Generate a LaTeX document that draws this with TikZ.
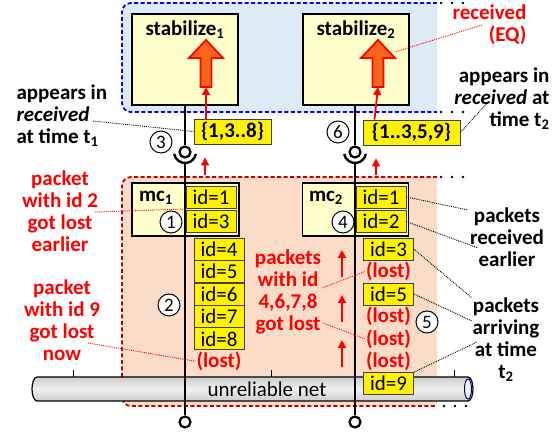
\documentclass[tikz,border=0pt]{standalone}
\usepackage{fontspec}
\setmainfont{Carlito}
\usepackage{xcolor}
\usepackage{tikz}
\usetikzlibrary{arrows.meta, positioning, calc}

\definecolor{stabfill}{HTML}{FFFFCC}
\definecolor{blueback}{HTML}{DDEBF7}
\definecolor{redback}{HTML}{FBDCC8}
\definecolor{darkred}{HTML}{C00000}
\definecolor{fatfill}{HTML}{F8661C}
\newcommand{\lblfont}{\fontsize{21}{22}\selectfont\bfseries}
\newcommand{\idfont}{\fontsize{21}{22}\selectfont}
\newcommand{\numfont}{\fontsize{19}{19}\selectfont}

\begin{document}
\begin{tikzpicture}[x=1pt, y=1pt,
    zone/.style={line width=1.8pt, dash pattern=on 4pt off 2.5pt, rounded corners=9pt},
    procbox/.style={draw, line width=1.2pt, fill=stabfill, inner sep=0pt},
    idbox/.style={draw=black!75, line width=0.8pt, fill=yellow, minimum width=50pt, minimum height=22pt, inner sep=0pt, font=\idfont},
    setbox/.style={draw=black!75, line width=0.8pt, fill=yellow, minimum height=25pt, inner sep=2pt, font=\lblfont},
    lost/.style={text=red, font=\lblfont, inner sep=1pt},
    redlbl/.style={text=red, font=\lblfont, align=center},
    blacklbl/.style={font=\lblfont},
    num/.style={circle, draw, line width=1pt, fill=white, minimum size=22pt, inner sep=0pt, font=\numfont},
    ball/.style={circle, draw, line width=2.2pt, fill=white, minimum size=11pt, inner sep=0pt},
    life/.style={line width=2.4pt},
    uparr/.style={-{Triangle[length=8pt, width=8pt]}, red, line width=1.8pt},
    note/.style={densely dotted, line width=0.9pt},
    rednote/.style={note, red},
]

\useasboundingbox (0,0) rectangle (560,434);

% Zones
\path[zone, fill=blueback, draw=blue] (437,431) -- (122,431) -- (122,322) -- (437,322);
\path[zone, fill=redback, draw=darkred] (437,257) -- (122,257) -- (122,28) -- (437,28);
\foreach \x in {441,452,463} {
    \fill (\x,431) circle[radius=1.4];
    \fill (\x,322) circle[radius=1.4];
    \fill (\x,257) circle[radius=1.4];
    \fill (\x+3,28) circle[radius=1.4];
}

% Unreliable net
\draw[line width=1.2pt, top color=gray!40, bottom color=gray!40, middle color=gray!12]
    (37,57) arc[start angle=90, end angle=270, x radius=5, y radius=12] -- (468,33)
    arc[start angle=-90, end angle=90, x radius=5, y radius=12] -- cycle;
\draw[line width=1pt, draw=blue!50!black, fill=blue!4] (468,45) ellipse[x radius=3.5, y radius=10];
\node[font=\idfont] (net) at (267,45) {unreliable net};
\foreach \x in {73,271,454} {
    \draw[line width=0.8pt] (\x,57) -- (\x,64);
}

% Processes
\node[procbox, minimum width=106pt, minimum height=91pt] (stab1) at (185,374.5) {};
\node[procbox, minimum width=106pt, minimum height=91pt] (stab2) at (356,374.5) {};
\node[blacklbl, below=4pt of stab1.north] (stab1lbl) {stabilize\textsubscript{1}};
\node[blacklbl, below=4pt of stab2.north] (stab2lbl) {stabilize\textsubscript{2}};
\node[procbox, minimum width=107pt, minimum height=53pt] (mc1) at (185.5,224.5) {};
\node[procbox, minimum width=106pt, minimum height=53pt] (mc2) at (355.5,224.5) {};
\node[blacklbl] (mc1lbl) at (156,236) {mc\textsubscript{1}};
\node[blacklbl] (mc2lbl) at (326,236) {mc\textsubscript{2}};

% Fat arrows into stabilize
\foreach \c/\n in {206/1, 378/2} {
    \draw[red, line width=1.8pt, fill=fatfill] (\c-5.5,347) -- (\c-5.5,376) -- (\c-17,376) -- (\c,394)
        -- (\c+17,376) -- (\c+5.5,376) -- (\c+5.5,347) -- cycle;
    \coordinate (fat\n) at (\c,347);
}

% Lifelines
\node[ball] (ball1) at (185,282) {};
\node[ball] (ball2) at (355,282) {};
\node[ball] (end1) at (185,12) {};
\node[ball] (end2) at (355,12) {};
\coordinate (sock1) at (185,271);
\coordinate (sock2) at (355,271);
\draw[life] (stab1.south -| ball1) -- (ball1);
\draw[life] (stab2.south -| ball2) -- (ball2);
\draw[life] (ball1.center) ++(190:11) arc[start angle=190, end angle=350, radius=11];
\draw[life] (ball2.center) ++(190:11) arc[start angle=190, end angle=350, radius=11];
\draw[life] (sock1) -- (end1);
\draw[life] (sock2) -- (end2);

% Packets at mc1
\node[idbox] (idl1) at (211,237) {id=1};
\node[idbox] (idl3) at (211,212.5) {id=3};
\foreach \i/\y in {4/184.8, 5/162.4, 6/140, 7/117.6, 8/95.2} {
    \node[idbox] (idl\i) at (219,\y) {id=\i};
}
\node[lost] (lostl8) at (219,72.8) {(lost)};

% Packets at mc2
\node[idbox] (idr1) at (381,237) {id=1};
\node[idbox] (idr2) at (381,212.5) {id=2};
\node[idbox] (idr3) at (388.5,184.8) {id=3};
\node[lost] (lostr4) at (388.5,162.4) {(lost)};
\node[idbox] (idr5) at (388.5,140) {id=5};
\node[lost] (lostr6) at (388.5,117.6) {(lost)};
\node[lost] (lostr7) at (388.5,95.2) {(lost)};
\node[lost] (lostr8) at (388.5,72.8) {(lost)};
\node[idbox] (idr9) at (388.5,50.4) {id=9};

% Received sets
\node[setbox, minimum width=77pt] (set1) at (232.5,302.5) {\{1,3..8\}};
\node[setbox, minimum width=97pt] (set2) at (411.5,301.5) {\{1..3,5,9\}};
\coordinate (in1) at (205,259);
\coordinate (in2) at (376,259);
\draw[uparr, shorten >=13pt] (in1) -- (in1 |- set1.south);
\draw[uparr, shorten >=13pt] (in2) -- (in2 |- set2.south);
\draw[uparr] (set1.north -| fat1) -- (fat1);
\draw[uparr] ($(set2.north)+(-37,0)$) -- (fat2);
\foreach \y in {157,112,67} {
    \draw[uparr] (342,\y) -- (342,\y+27);
}

% Step numbers
\node[num] (n1) at (171,212) {1};
\node[num] (n2) at (169,129) {2};
\node[num] (n3) at (161,292) {3};
\node[num] (n4) at (343,212) {4};
\node[num] (n5) at (427,112) {5};
\node[num] (n6) at (338,302) {6};

% Remarks
\node[redlbl] (why2) at (60,223) {packet\\with id 2\\got lost\\earlier};
\node[redlbl] (why9) at (62,114) {packet\\with id 9\\got lost\\now};
\node[redlbl] (whymid) at (288,142.5) {packets\\with id\\4,6,7,8\\got lost};
\node[blacklbl, align=left, anchor=west] (time1) at (13,318) {appears in\\\textit{received}\\at time t\textsubscript{1}};
\node[blacklbl, align=right, anchor=east] (time2) at (553,335) {appears in\\\textit{received} at\\time t\textsubscript{2}};
\node[redlbl, align=right, anchor=east] (eq) at (530,409) {received\\(EQ)};
\node[blacklbl, align=center] (earlier) at (507,197) {packets\\received\\earlier};
\node[blacklbl, align=center] (arriving) at (506,94) {packets\\arriving\\at time\\t\textsubscript{2}};

\coordinate (c2) at (95,222);
\coordinate (gap2) at (186,225);
\coordinate (c9) at (88,91);
\coordinate (cmid1) at (322,146);
\coordinate (cmid2) at (323,111);
\coordinate (ct1) at (93,313);
\coordinate (ct2) at (488,332);
\coordinate (ceq) at (482,409);
\coordinate (heq) at (395,382);
\coordinate (ce1) at (468,224);
\coordinate (ce2) at (478,186);
\coordinate (ca3) at (472,136);
\coordinate (ca5) at (472,113);
\coordinate (ca9) at (477,92);

\draw[rednote] (c2) -- (gap2);
\draw[rednote] (c9) -- (lostl8.west);
\draw[rednote] (cmid1) -- (lostr4.west);
\draw[rednote] (cmid2) -- (lostr7.west);
\draw[rednote] (ceq) -- (heq);
\draw[note] (ct1) -- (set1.west);
\draw[note] (set2.east) -- (ct2);
\draw[note] (idr1.east) -- (ce1);
\draw[note] (idr2.east) -- (ce2);
\draw[note] (idr3.east) -- (ca3);
\draw[note] (idr5.east) -- (ca5);
\draw[note] (idr9.north east) -- (ca9);

\end{tikzpicture}
\end{document}
